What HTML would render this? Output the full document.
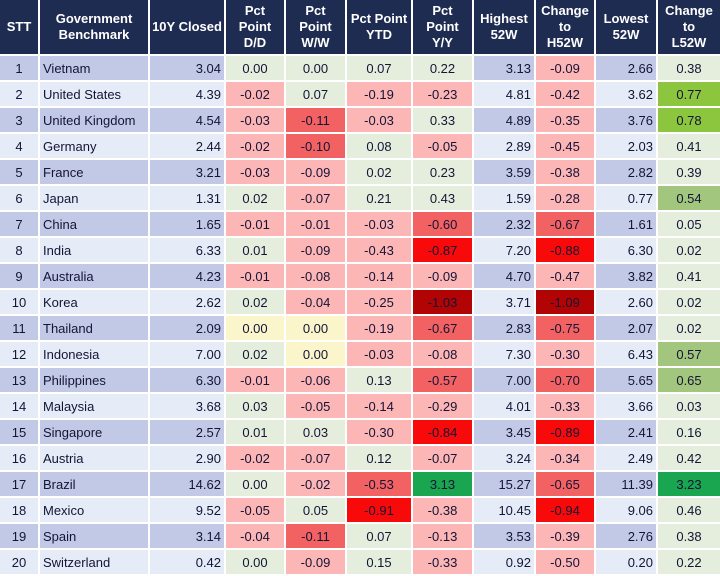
<!DOCTYPE html>
<html><head><meta charset="utf-8">
<style>
body{margin:0;width:720px;height:576px;background:#fff;font-family:"Liberation Sans",Arial,sans-serif;overflow:hidden}
#t{position:relative;width:720px;height:576px}
.c{position:absolute;box-sizing:border-box;font-size:13px;color:#141436;line-height:26px;white-space:nowrap}
.h{background:#1f2c52;color:#fff;font-weight:bold;display:flex;align-items:center;justify-content:center;text-align:center;line-height:16px;font-size:13px}
</style></head><body>
<div id="t"></div>
<script>
const headers=["STT","Government<br>Benchmark","10Y Closed","Pct<br>Point<br>D/D","Pct<br>Point<br>W/W","Pct Point<br>YTD","Pct<br>Point<br>Y/Y","Highest<br>52W","Change<br>to<br>H52W","Lowest<br>52W","Change<br>to<br>L52W"];
const countries=["Vietnam","United States","United Kingdom","Germany","France","Japan","China","India","Australia","Korea","Thailand","Indonesia","Philippines","Malaysia","Singapore","Austria","Brazil","Mexico","Spain","Switzerland"];
const closed=["3.04","4.39","4.54","2.44","3.21","1.31","1.65","6.33","4.23","2.62","2.09","7.00","6.30","3.68","2.57","2.90","14.62","9.52","3.14","0.42"];
const dd=["0.00","-0.02","-0.03","-0.02","-0.03","0.02","-0.01","0.01","-0.01","0.02","0.00","0.02","-0.01","0.03","0.01","-0.02","0.00","-0.05","-0.04","0.00"];
const ww=["0.00","0.07","-0.11","-0.10","-0.09","-0.07","-0.01","-0.09","-0.08","-0.04","0.00","0.00","-0.06","-0.05","0.03","-0.07","-0.02","0.05","-0.11","-0.09"];
const ytd=["0.07","-0.19","-0.03","0.08","0.02","0.21","-0.03","-0.43","-0.14","-0.25","-0.19","-0.03","0.13","-0.14","-0.30","0.12","-0.53","-0.91","0.07","0.15"];
const yy=["0.22","-0.23","0.33","-0.05","0.23","0.43","-0.60","-0.87","-0.09","-1.03","-0.67","-0.08","-0.57","-0.29","-0.84","-0.07","3.13","-0.38","-0.13","-0.33"];
const high=["3.13","4.81","4.89","2.89","3.59","1.59","2.32","7.20","4.70","3.71","2.83","7.30","7.00","4.01","3.45","3.24","15.27","10.45","3.53","0.92"];
const chH=["-0.09","-0.42","-0.35","-0.45","-0.38","-0.28","-0.67","-0.88","-0.47","-1.09","-0.75","-0.30","-0.70","-0.33","-0.89","-0.34","-0.65","-0.94","-0.39","-0.50"];
const low=["2.66","3.62","3.76","2.03","2.82","0.77","1.61","6.30","3.82","2.60","2.07","6.43","5.65","3.66","2.41","2.49","11.39","9.06","2.76","0.20"];
const chL=["0.38","0.77","0.78","0.41","0.39","0.54","0.05","0.02","0.41","0.02","0.02","0.57","0.65","0.03","0.16","0.42","3.23","0.46","0.38","0.22"];
// heat classes per row: DD, WW, YTD, YY, CH, CL
const heat=["n n n n lr n","lr n lr lr lr g1","lr mr lr n lr g1","lr mr n lr lr n","lr lr n n lr n","n lr n n lr g2","lr lr lr mr mr n","n lr lr r r n","lr lr lr lr lr n","n lr lr dr dr n","y y lr mr mr n","n y lr lr lr g2","lr lr n mr mr g2","n lr lr lr lr n","n n lr r r n","lr lr n lr lr n","n lr mr g3 mr g3","lr n r lr r n","lr mr n lr lr n","n lr n lr lr n"];
const colors={n:"#e5eedd",lr:"#fcb6b6",mr:"#f26262",r:"#f80a0a",dr:"#b20404",y:"#fbf5cb",g1:"#8cc63f",g2:"#a2c67e",g3:"#1aa651"};
const xs=[0,40,150,226,286,347,413,474,536,596,658,720];
const names=["stt","benchmark","closed-10y","pct-dd","pct-ww","pct-ytd","pct-yy","highest-52w","change-h52w","lowest-52w","change-l52w"];
const t=document.getElementById('t');
const HH=55,RH=26;
function cell(x0,x1,y,h,cls){
  const d=document.createElement('div');
  d.className='c '+cls;
  d.style.left=x0+'px';d.style.top=y+'px';
  d.style.width=(x1-x0-(x1<720?2:0))+'px';d.style.height=(h-2)+'px';
  t.appendChild(d);return d;
}
headers.forEach((h,i)=>{
  const d=cell(xs[i],xs[i+1],0,HH+1,'h');
  d.innerHTML=h;
  
  
});
for(let r=0;r<20;r++){
  const y=HH+1+r*RH;
  const odd=r%2===0;
  const band=odd?"#c2c9e6":"#e6ecf7";
  const hc=heat[r].split(' ');
  const vals=[String(r+1),countries[r],closed[r],dd[r],ww[r],ytd[r],yy[r],high[r],chH[r],low[r],chL[r]];
  vals.forEach((v,i)=>{
    const d=cell(xs[i],xs[i+1],y,RH,'');
    d.textContent=v;
    let bg=band,align='center',pad='0';
    if(i===1){align='left';pad='0 0 0 3px';}
    if(i===2||i===7||i===9){align='right';pad='0 3px 0 0';}
    const hm={3:0,4:1,5:2,6:3,8:4,10:5};
    if(i in hm) bg=colors[hc[hm[i]]];
    d.style.background=bg;d.style.textAlign=align;d.style.padding=pad;
    
    
  });
}
</script>
</body></html>
